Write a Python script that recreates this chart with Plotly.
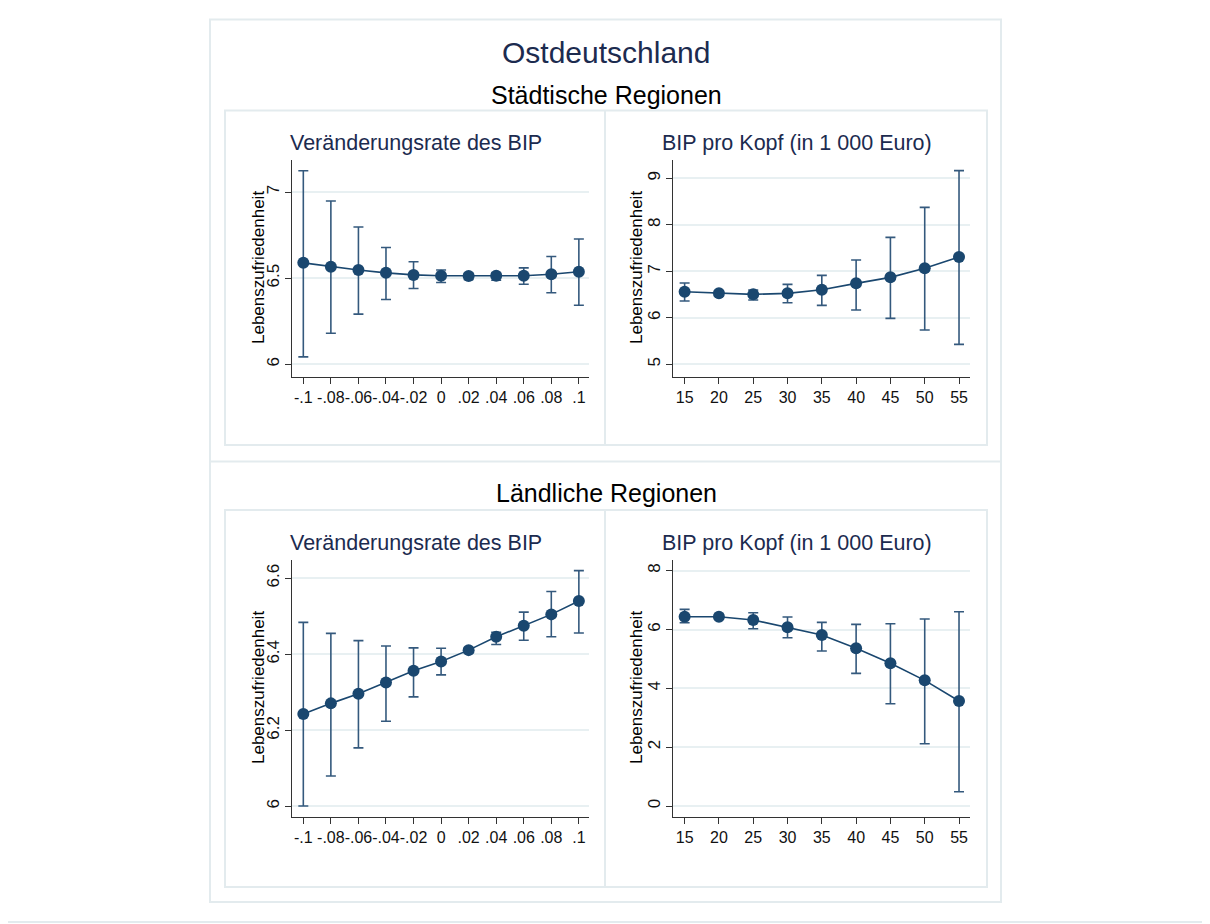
import plotly.graph_objects as go

# ---------------- data ----------------
x_rate = [-0.1, -0.08, -0.06, -0.04, -0.02, 0.0, 0.02, 0.04, 0.06, 0.08, 0.1]
x_rate_labels = ["-.1", "-.08", "-.06", "-.04", "-.02", "0", ".02", ".04", ".06", ".08", ".1"]
x_gdp = [15, 20, 25, 30, 35, 40, 45, 50, 55]
x_gdp_labels = ["15", "20", "25", "30", "35", "40", "45", "50", "55"]

# Städtische Regionen – Veränderungsrate des BIP
urb_rate_est = [6.589, 6.566, 6.547, 6.531, 6.519, 6.514, 6.512, 6.514, 6.514, 6.523, 6.537]
urb_rate_hi = [7.124, 6.948, 6.797, 6.678, 6.595, 6.547, 6.528, 6.531, 6.560, 6.626, 6.727]
urb_rate_lo = [6.043, 6.180, 6.291, 6.376, 6.440, 6.475, 6.492, 6.488, 6.465, 6.415, 6.343]

# Städtische Regionen – BIP pro Kopf
urb_gdp_est = [6.563, 6.527, 6.505, 6.527, 6.606, 6.742, 6.871, 7.065, 7.308]
urb_gdp_hi = [6.749, 6.580, 6.599, 6.720, 6.914, 7.244, 7.731, 8.376, 9.165]
urb_gdp_lo = [6.362, 6.470, 6.384, 6.326, 6.269, 6.168, 5.989, 5.738, 5.430]

# Ländliche Regionen – Veränderungsrate des BIP
rur_rate_est = [6.243, 6.271, 6.296, 6.326, 6.357, 6.381, 6.411, 6.446, 6.475, 6.505, 6.540]
rur_rate_hi = [6.484, 6.455, 6.436, 6.422, 6.417, 6.416, 6.418, 6.458, 6.511, 6.565, 6.620]
rur_rate_lo = [6.001, 6.080, 6.154, 6.224, 6.288, 6.346, 6.404, 6.426, 6.437, 6.446, 6.456]

# Ländliche Regionen – BIP pro Kopf
rur_gdp_est = [6.436, 6.436, 6.323, 6.074, 5.813, 5.360, 4.850, 4.272, 3.569]
rur_gdp_hi = [6.686, 6.520, 6.572, 6.425, 6.244, 6.176, 6.198, 6.357, 6.606]
rur_gdp_lo = [6.232, 6.350, 6.028, 5.722, 5.269, 4.510, 3.479, 2.119, 0.487]

main_title = "Ostdeutschland"
row_titles = ["Städtische Regionen", "Ländliche Regionen"]
panel_titles = ["Veränderungsrate des BIP", "BIP pro Kopf (in 1 000 Euro)"]
y_title = "Lebenszufriedenheit"

# ---------------- styling ----------------
W, H = 1210, 924
OFF = 8  # page body margin of the rendered html
NAVY = "#1a476f"
ERR = "#34597d"
GRID = "#e8f0f2"
FRAME = "#e3ebee"
AXC = "#333333"
FONT = "Liberation Sans, Arial, Helvetica, sans-serif"
TITLE_C = "#1c2b4f"


def px_x(p):
    return (p - OFF) / W


def px_y(p):
    return 1 - (p - OFF) / H


fig = go.Figure()

panels = [
    (x_rate, urb_rate_est, urb_rate_hi, urb_rate_lo, "x", "y"),
    (x_gdp, urb_gdp_est, urb_gdp_hi, urb_gdp_lo, "x2", "y2"),
    (x_rate, rur_rate_est, rur_rate_hi, rur_rate_lo, "x3", "y3"),
    (x_gdp, rur_gdp_est, rur_gdp_hi, rur_gdp_lo, "x4", "y4"),
]

for xs, est, hi, lo, xa, ya in panels:
    fig.add_trace(go.Scatter(
        x=xs, y=est, xaxis=xa, yaxis=ya, mode="lines+markers",
        line=dict(color=NAVY, width=1.6),
        marker=dict(color=NAVY, size=12),
        error_y=dict(type="data", symmetric=False,
                     array=[h - e for h, e in zip(hi, est)],
                     arrayminus=[e - l for e, l in zip(est, lo)],
                     color=ERR, thickness=1.6, width=5),
        showlegend=False, hoverinfo="x+y",
    ))

xl = [px_x(292.3), px_x(588.5)]
xr = [px_x(673.3), px_x(970)]
yt = [px_y(376.7), px_y(160)]
yb = [px_y(816.7), px_y(560)]

common_x = dict(showline=True, linecolor=AXC, linewidth=1, ticks="outside",
                ticklen=6, tickcolor=AXC, tickwidth=1, showgrid=False, zeroline=False,
                tickangle=0,
                tickfont=dict(family=FONT, size=16, color="#111111"), fixedrange=True)
common_y = dict(showline=True, linecolor=AXC, linewidth=1, ticks="outside",
                ticklen=6, tickcolor=AXC, tickwidth=1, showgrid=True, gridcolor=GRID,
                gridwidth=1.5, zeroline=False, tickangle=-90,
                tickfont=dict(family=FONT, size=17, color="#111111"), fixedrange=True)

fig.update_layout(
    width=W, height=H, margin=dict(l=0, r=0, t=0, b=0),
    paper_bgcolor="white", plot_bgcolor="white",
    xaxis=dict(domain=xl, anchor="y", range=[-0.108, 0.107],
               tickvals=x_rate, ticktext=x_rate_labels, **common_x),
    yaxis=dict(domain=yt, anchor="x", range=[5.928, 7.186],
               tickvals=[6, 6.5, 7], ticktext=["6", "6.5", "7"], **common_y),
    xaxis2=dict(domain=xr, anchor="y2", range=[13.35, 56.6],
                tickvals=x_gdp, ticktext=x_gdp_labels, **common_x),
    yaxis2=dict(domain=yt, anchor="x2", range=[4.735, 9.394],
                tickvals=[5, 6, 7, 8, 9], ticktext=["5", "6", "7", "8", "9"], **common_y),
    xaxis3=dict(domain=xl, anchor="y3", range=[-0.108, 0.107],
                tickvals=x_rate, ticktext=x_rate_labels, **common_x),
    yaxis3=dict(domain=yb, anchor="x3", range=[5.973, 6.648],
                tickvals=[6, 6.2, 6.4, 6.6], ticktext=["6", "6.2", "6.4", "6.6"], **common_y),
    xaxis4=dict(domain=xr, anchor="y4", range=[13.35, 56.6],
                tickvals=x_gdp, ticktext=x_gdp_labels, **common_x),
    yaxis4=dict(domain=yb, anchor="x4", range=[-0.363, 8.363],
                tickvals=[0, 2, 4, 6, 8], ticktext=["0", "2", "4", "6", "8"], **common_y),
)

# ---------------- frames ----------------
def rect(x0, y0, x1, y1, w=2):
    fig.add_shape(type="rect", xref="paper", yref="paper",
                  x0=px_x(x0), x1=px_x(x1), y0=px_y(y1), y1=px_y(y0),
                  line=dict(color=FRAME, width=w), fillcolor="rgba(0,0,0,0)", layer="below")


def line(x0, y0, x1, y1, w=2):
    fig.add_shape(type="line", xref="paper", yref="paper",
                  x0=px_x(x0), x1=px_x(x1), y0=px_y(y0), y1=px_y(y1),
                  line=dict(color=FRAME, width=w), layer="below")


# page edges
line(1208, 8, 1208, 922)
line(8, 922, 1208, 922)
# outer graph frame
rect(210, 19.5, 1001, 902)
line(210, 461.5, 1001, 461.5)
# inner boxes
rect(225, 110.5, 987, 445)
line(605, 110.5, 605, 445)
rect(225, 510, 987, 887)
line(605, 510, 605, 887)

# ---------------- texts ----------------
def text(s, x, y, size, color, angle=0):
    fig.add_annotation(text=s, xref="paper", yref="paper", x=px_x(x), y=px_y(y),
                       xanchor="center", yanchor="middle", showarrow=False,
                       textangle=angle, font=dict(family=FONT, size=size, color=color))


text(main_title, 606, 53, 30, TITLE_C)
text(row_titles[0], 606, 95, 25, "#000000")
text(row_titles[1], 606, 493, 25, "#000000")
for yc in (143, 543):
    text(panel_titles[0], 416, yc, 21.5, TITLE_C)
    text(panel_titles[1], 797, yc, 21.5, TITLE_C)
for xc in (258, 636):
    text(y_title, xc, 268, 17, "#000000", -90)
    text(y_title, xc, 688, 17, "#000000", -90)

fig.write_html("out.html")
